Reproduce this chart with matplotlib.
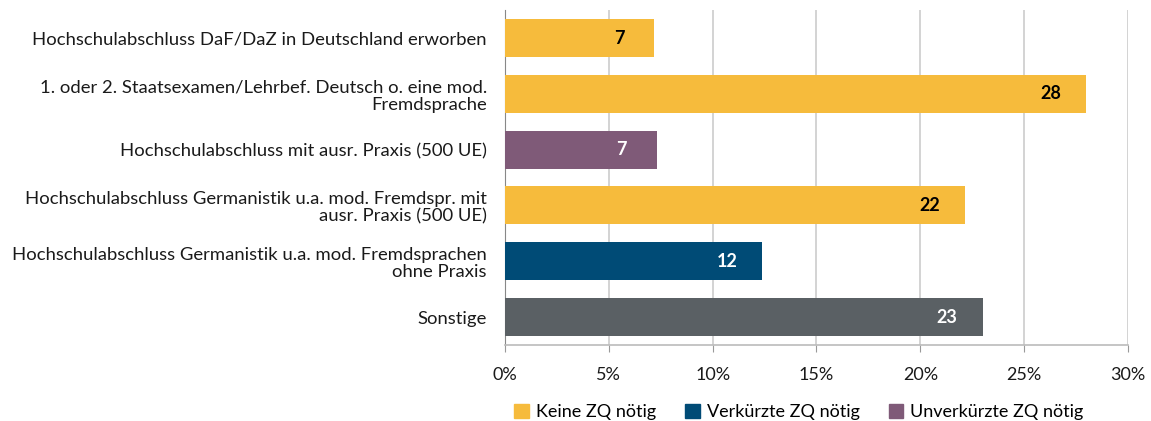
import matplotlib.pyplot as plt
from matplotlib.patches import Patch

plt.rcParams['font.family'] = ['Lato', 'DejaVu Sans']

categories = [
    "Hochschulabschluss DaF/DaZ in Deutschland erworben",
    "1. oder 2. Staatsexamen/Lehrbef. Deutsch o. eine mod.\nFremdsprache",
    "Hochschulabschluss mit ausr. Praxis (500 UE)",
    "Hochschulabschluss Germanistik u.a. mod. Fremdspr. mit\nausr. Praxis (500 UE)",
    "Hochschulabschluss Germanistik u.a. mod. Fremdsprachen\nohne Praxis",
    "Sonstige",
]
counts = [7, 28, 7, 22, 12, 23]
percents = [7.2, 28.0, 7.3, 22.15, 12.4, 23.0]
groups = ["keine", "keine", "unverkuerzt", "keine", "verkuerzt", "sonstige"]

colors = {
    "keine": "#F6BB3C",
    "verkuerzt": "#004B76",
    "unverkuerzt": "#7F5A78",
    "sonstige": "#5A6064",
}
text_colors = {"keine": "black", "verkuerzt": "white",
               "unverkuerzt": "white", "sonstige": "white"}
legend_names = [("keine", "Keine ZQ nötig"),
                ("verkuerzt", "Verkürzte ZQ nötig"),
                ("unverkuerzt", "Unverkürzte ZQ nötig")]

fig = plt.figure(figsize=(11.51, 4.21), dpi=100)
ax = fig.add_axes([0.4387, 0.1805, 0.5413, 0.7955])

y = list(range(len(categories)))
ax.barh(y, percents, height=0.68, color=[colors[g] for g in groups], zorder=3)

# count labels inside the bars, near the right end
for yi, p, c, g in zip(y, percents, counts, groups):
    ax.text(p - 1.7, yi, str(c), ha='center', va='center',
            fontsize=13, fontweight='bold', color=text_colors[g], zorder=4)

ax.set_xlim(0, 30)
ax.set_ylim(5.5, -0.5)
ax.set_xticks(range(0, 31, 5))
ax.set_xticklabels([f"{v}%" for v in range(0, 31, 5)], fontsize=13)
ax.set_yticks(y)
ax.set_yticklabels(categories, fontsize=13.3, color='#1a1a1a', linespacing=1.1)
ax.tick_params(axis='y', length=0, pad=13)
ax.tick_params(axis='x', length=5, color='#999999', pad=11, colors='#1a1a1a')
ax.xaxis.grid(True, color='#d0d0d0', linewidth=1.3, zorder=0)

for s in ['top', 'right']:
    ax.spines[s].set_visible(False)
ax.spines['left'].set_color('#888888')
ax.spines['bottom'].set_color('#bbbbbb')
ax.spines['bottom'].set_linewidth(1.2)

handles = [Patch(color=colors[k], label=n) for k, n in legend_names]
fig.legend(handles=handles, loc='center', bbox_to_anchor=(799 / 1151, 1 - 412 / 421),
           ncol=3, frameon=False, fontsize=13, handlelength=0.8, handleheight=0.8,
           handletextpad=0.4, columnspacing=1.6)

fig.savefig("out.png", dpi=100)
